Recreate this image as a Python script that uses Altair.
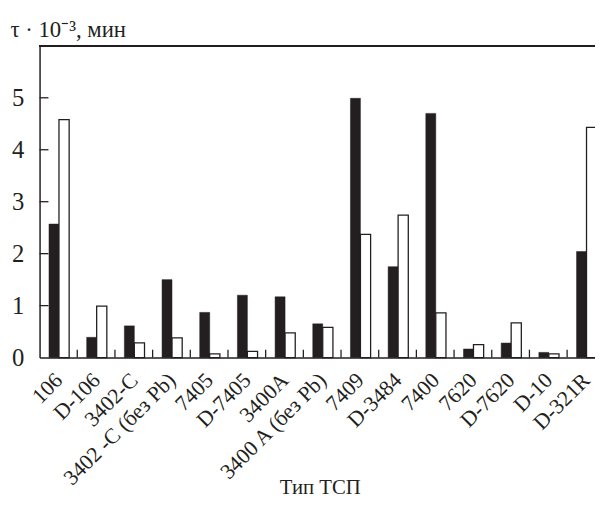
import json
import altair as alt
import pandas as pd

# ---- data ----
categories = ["106", "D-106", "3402-C", "3402 -C (без Pb)", "7405", "D-7405",
              "3400A", "3400 A (без Pb)", "7409", "D-3484", "7400", "7620",
              "D-7620", "D-10", "D-321R"]
black_values = [2.57, 0.39, 0.61, 1.50, 0.87, 1.20, 1.17, 0.65, 4.99, 1.75,
                4.70, 0.165, 0.28, 0.10, 2.04]
white_values = [4.58, 0.99, 0.285, 0.38, 0.07, 0.12, 0.475, 0.58, 2.37, 2.74,
                0.86, 0.25, 0.67, 0.07, 4.43]
y_tick_values = [0, 1, 2, 3, 4, 5]

INK = "#231f20"
FONT = "Liberation Serif"

n = len(categories)
df = pd.DataFrame({"idx": list(range(n)), "cat": categories,
                   "black": black_values, "white": white_values})
bounds = pd.DataFrame({"b": list(range(1, n))})
yt = pd.DataFrame({"t": y_tick_values[1:]})

xs = alt.Scale(domain=[0, 14.74], nice=False, zero=False)
ys = alt.Scale(domain=[0, 6], nice=False)

label_expr = json.dumps(categories, ensure_ascii=False) + "[floor(datum.value)]"

xaxis = alt.Axis(values=[i + 0.5 for i in range(n)], labelExpr=label_expr,
                 labelAngle=-45, labelAlign="right", labelBaseline="middle",
                 labelPadding=19, ticks=False, tickSize=0, grid=False,
                 domainColor=INK, domainWidth=1.5, labelFont=FONT,
                 labelFontSize=22, labelColor=INK, labelFlush=False,
                 labelOverlap=False, labelLimit=400, title="Тип ТСП",
                 titleFont=FONT, titleFontSize=21, titleFontWeight="normal",
                 titleColor=INK, titleX=284, titleY=138, titleAlign="center",
                 titleBaseline="alphabetic")
yaxis = alt.Axis(values=y_tick_values, ticks=False, tickSize=0, grid=False,
                 labelPadding=16, labelFont=FONT, labelFontSize=25,
                 labelColor=INK, labelFlush=False, domainColor=INK,
                 domainWidth=1.5, title="τ · 10⁻³, мин", titleFont=FONT,
                 titleFontSize=23, titleFontWeight="normal", titleColor=INK,
                 titleAngle=0, titleX=-30, titleY=-9, titleAlign="left",
                 titleBaseline="alphabetic")

base = alt.Chart(df).transform_calculate(
    x0="datum.idx + 0.25", x1="datum.idx + 0.515", x2="datum.idx + 0.785")

black = base.mark_rect(fill=INK, stroke=INK, strokeWidth=0.5).encode(
    x=alt.X("x0:Q", scale=xs, axis=xaxis),
    x2="x1:Q",
    y=alt.Y("black:Q", scale=ys, axis=yaxis),
    y2=alt.datum(0),
)
white = base.mark_rect(fill="white", stroke=INK, strokeWidth=1.3).encode(
    x=alt.X("x1:Q", scale=xs, axis=xaxis),
    x2="x2:Q",
    y=alt.Y("white:Q", scale=ys, axis=yaxis),
    y2=alt.datum(0),
)
xticks = alt.Chart(bounds).mark_rule(color=INK, strokeWidth=1.3).encode(
    x=alt.X("b:Q", scale=xs, axis=xaxis),
    y=alt.value(316), y2=alt.value(308),
)
yticks = alt.Chart(yt).mark_rule(color=INK, strokeWidth=1.3).encode(
    y=alt.Y("t:Q", scale=ys, axis=yaxis),
    x=alt.value(0), x2=alt.value(9),
)
top = alt.Chart(df).mark_rule(color=INK, strokeWidth=1.5).encode(
    y=alt.Y(datum=6, scale=ys, axis=yaxis),
)

chart = alt.layer(black, white, xticks, yticks, top).properties(
    width=563, height=316,
    autosize=alt.AutoSizeParams(type="none"),
    padding={"left": 32, "top": 35, "right": 0, "bottom": 140},
).configure_view(stroke=None)

chart.save("out.html", embed_options={"renderer": "svg", "actions": False})
